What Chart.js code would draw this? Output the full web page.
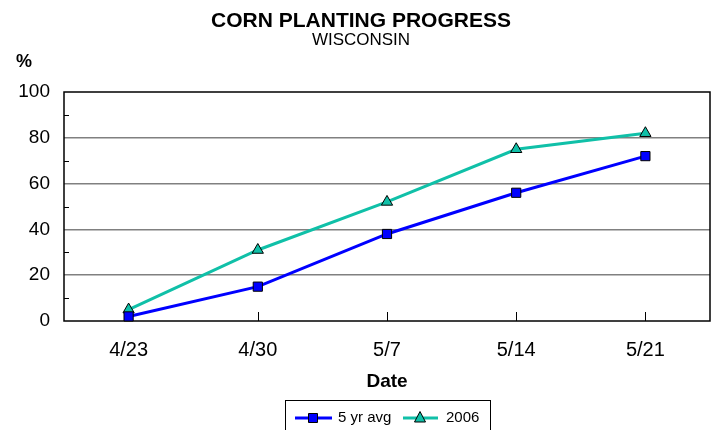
<!DOCTYPE html>
<html>
<head>
<meta charset="utf-8">
<script src="https://cdn.jsdelivr.net/npm/chart.js@4.4.0/dist/chart.umd.min.js"></script>
<style>
  html, body { margin: 0; padding: 0; background: #fff; }
  #wrap { width: 721px; height: 430px; }
</style>
</head>
<body>
<div id="wrap"><canvas id="chart" width="721" height="430"></canvas></div>
<script>
const categories = ["4/23", "4/30", "5/7", "5/14", "5/21"];
const avgValues = [2, 15, 38, 56, 72];
const values2006 = [5, 31, 52, 75, 82];
const yMinorTicks = [10, 30, 50, 70, 90];

const FONT = "'Liberation Sans', Arial, sans-serif";
const BLUE = "#0000ff";
const TEAL = "#10c0a8";

function drawMarker(ctx, style, x, y, fill) {
  ctx.fillStyle = fill;
  ctx.strokeStyle = "#000";
  ctx.lineWidth = 1;
  ctx.beginPath();
  if (style === "rect") {
    ctx.rect(x - 4.5, y - 4.5, 9, 9);
  } else {
    ctx.moveTo(x, y - 6.5);
    ctx.lineTo(x + 5.5, y + 4);
    ctx.lineTo(x - 5.5, y + 4);
    ctx.closePath();
  }
  ctx.fill();
  ctx.stroke();
}

const frame = {
  id: "frame",
  beforeDatasetsDraw(chart) {
    const { ctx, chartArea: a, scales: { x, y } } = chart;
    ctx.save();
    ctx.strokeStyle = "#000";
    ctx.lineWidth = 1.5;
    ctx.strokeRect(a.left, a.top, a.right - a.left, a.bottom - a.top);
    ctx.lineWidth = 1;
    yMinorTicks.forEach(v => {
      const py = Math.round(y.getPixelForValue(v)) + 0.5;
      ctx.beginPath();
      ctx.moveTo(a.left, py);
      ctx.lineTo(a.left + 5, py);
      ctx.stroke();
    });
    categories.forEach((c, i) => {
      const px = Math.round(x.getPixelForValue(i)) + 0.5;
      ctx.beginPath();
      ctx.moveTo(px, a.bottom);
      ctx.lineTo(px, a.bottom - 9);
      ctx.stroke();
    });
    ctx.restore();
  },
  afterDraw(chart) {
    const { ctx, chartArea: a } = chart;
    ctx.save();
    ctx.fillStyle = "#000";
    ctx.textAlign = "center";
    ctx.textBaseline = "middle";
    ctx.font = "bold 21px " + FONT;
    ctx.fillText("CORN PLANTING PROGRESS", 361, 21);
    ctx.font = "17px " + FONT;
    ctx.fillText("WISCONSIN", 361, 40);
    ctx.font = "bold 18px " + FONT;
    ctx.fillText("%", 24, 62);
    ctx.font = "bold 19px " + FONT;
    ctx.fillText("Date", (a.left + a.right) / 2, 382);

    // legend box
    ctx.strokeStyle = "#000";
    ctx.lineWidth = 1;
    ctx.strokeRect(285.5, 400.5, 205, 40);
    const ly = 418;
    ctx.lineWidth = 3;
    ctx.strokeStyle = BLUE;
    ctx.beginPath(); ctx.moveTo(295, ly); ctx.lineTo(332, ly); ctx.stroke();
    drawMarker(ctx, "rect", 313, ly, BLUE);
    ctx.lineWidth = 3;
    ctx.strokeStyle = TEAL;
    ctx.beginPath(); ctx.moveTo(403, ly); ctx.lineTo(438, ly); ctx.stroke();
    drawMarker(ctx, "triangle", 420, ly, TEAL);
    ctx.fillStyle = "#000";
    ctx.font = "15px " + FONT;
    ctx.textAlign = "left";
    ctx.fillText("5 yr avg", 338, ly);
    ctx.fillText("2006", 446, ly);
    ctx.restore();
  }
};

new Chart(document.getElementById("chart"), {
  type: "line",
  data: {
    labels: categories,
    datasets: [
      {
        label: "5 yr avg",
        data: avgValues,
        borderColor: BLUE,
        backgroundColor: BLUE,
        borderWidth: 3,
        pointStyle: "rect",
        pointRadius: 6.5,
        pointBorderColor: "#000",
        pointBorderWidth: 1,
        tension: 0,
        clip: false,
      },
      {
        label: "2006",
        data: values2006,
        borderColor: TEAL,
        backgroundColor: TEAL,
        borderWidth: 3,
        pointStyle: "triangle",
        pointRadius: 6.5,
        pointBorderColor: "#000",
        pointBorderWidth: 1,
        tension: 0,
        clip: false,
      },
    ],
  },
  plugins: [frame],
  options: {
    responsive: false,
    animation: false,
    layout: { padding: { left: 0, right: 11, top: 92, bottom: 0 } },
    plugins: {
      legend: { display: false },
      title: { display: false },
      tooltip: { enabled: false },
    },
    scales: {
      x: {
        offset: true,
        grid: { display: false, drawTicks: false },
        border: { display: false },
        ticks: { color: "#000", font: { family: FONT, size: 20 }, padding: 17, maxRotation: 0 },
        afterFit: s => { s.height = 109; },
      },
      y: {
        min: 0,
        max: 100,
        grid: {
          drawTicks: false,
          color: c => (c.tick.value % 20 === 0 && c.tick.value > 0 && c.tick.value < 100) ? "#808080" : "rgba(0,0,0,0)",
          lineWidth: 1.5,
        },
        border: { display: false },
        ticks: {
          stepSize: 10,
          color: "#000",
          font: { family: FONT, size: 19 },
          padding: 14,
          callback: v => (v % 20 === 0 ? v : ""),
        },
        afterFit: s => { s.width = 64; },
      },
    },
  },
});
</script>
</body>
</html>
